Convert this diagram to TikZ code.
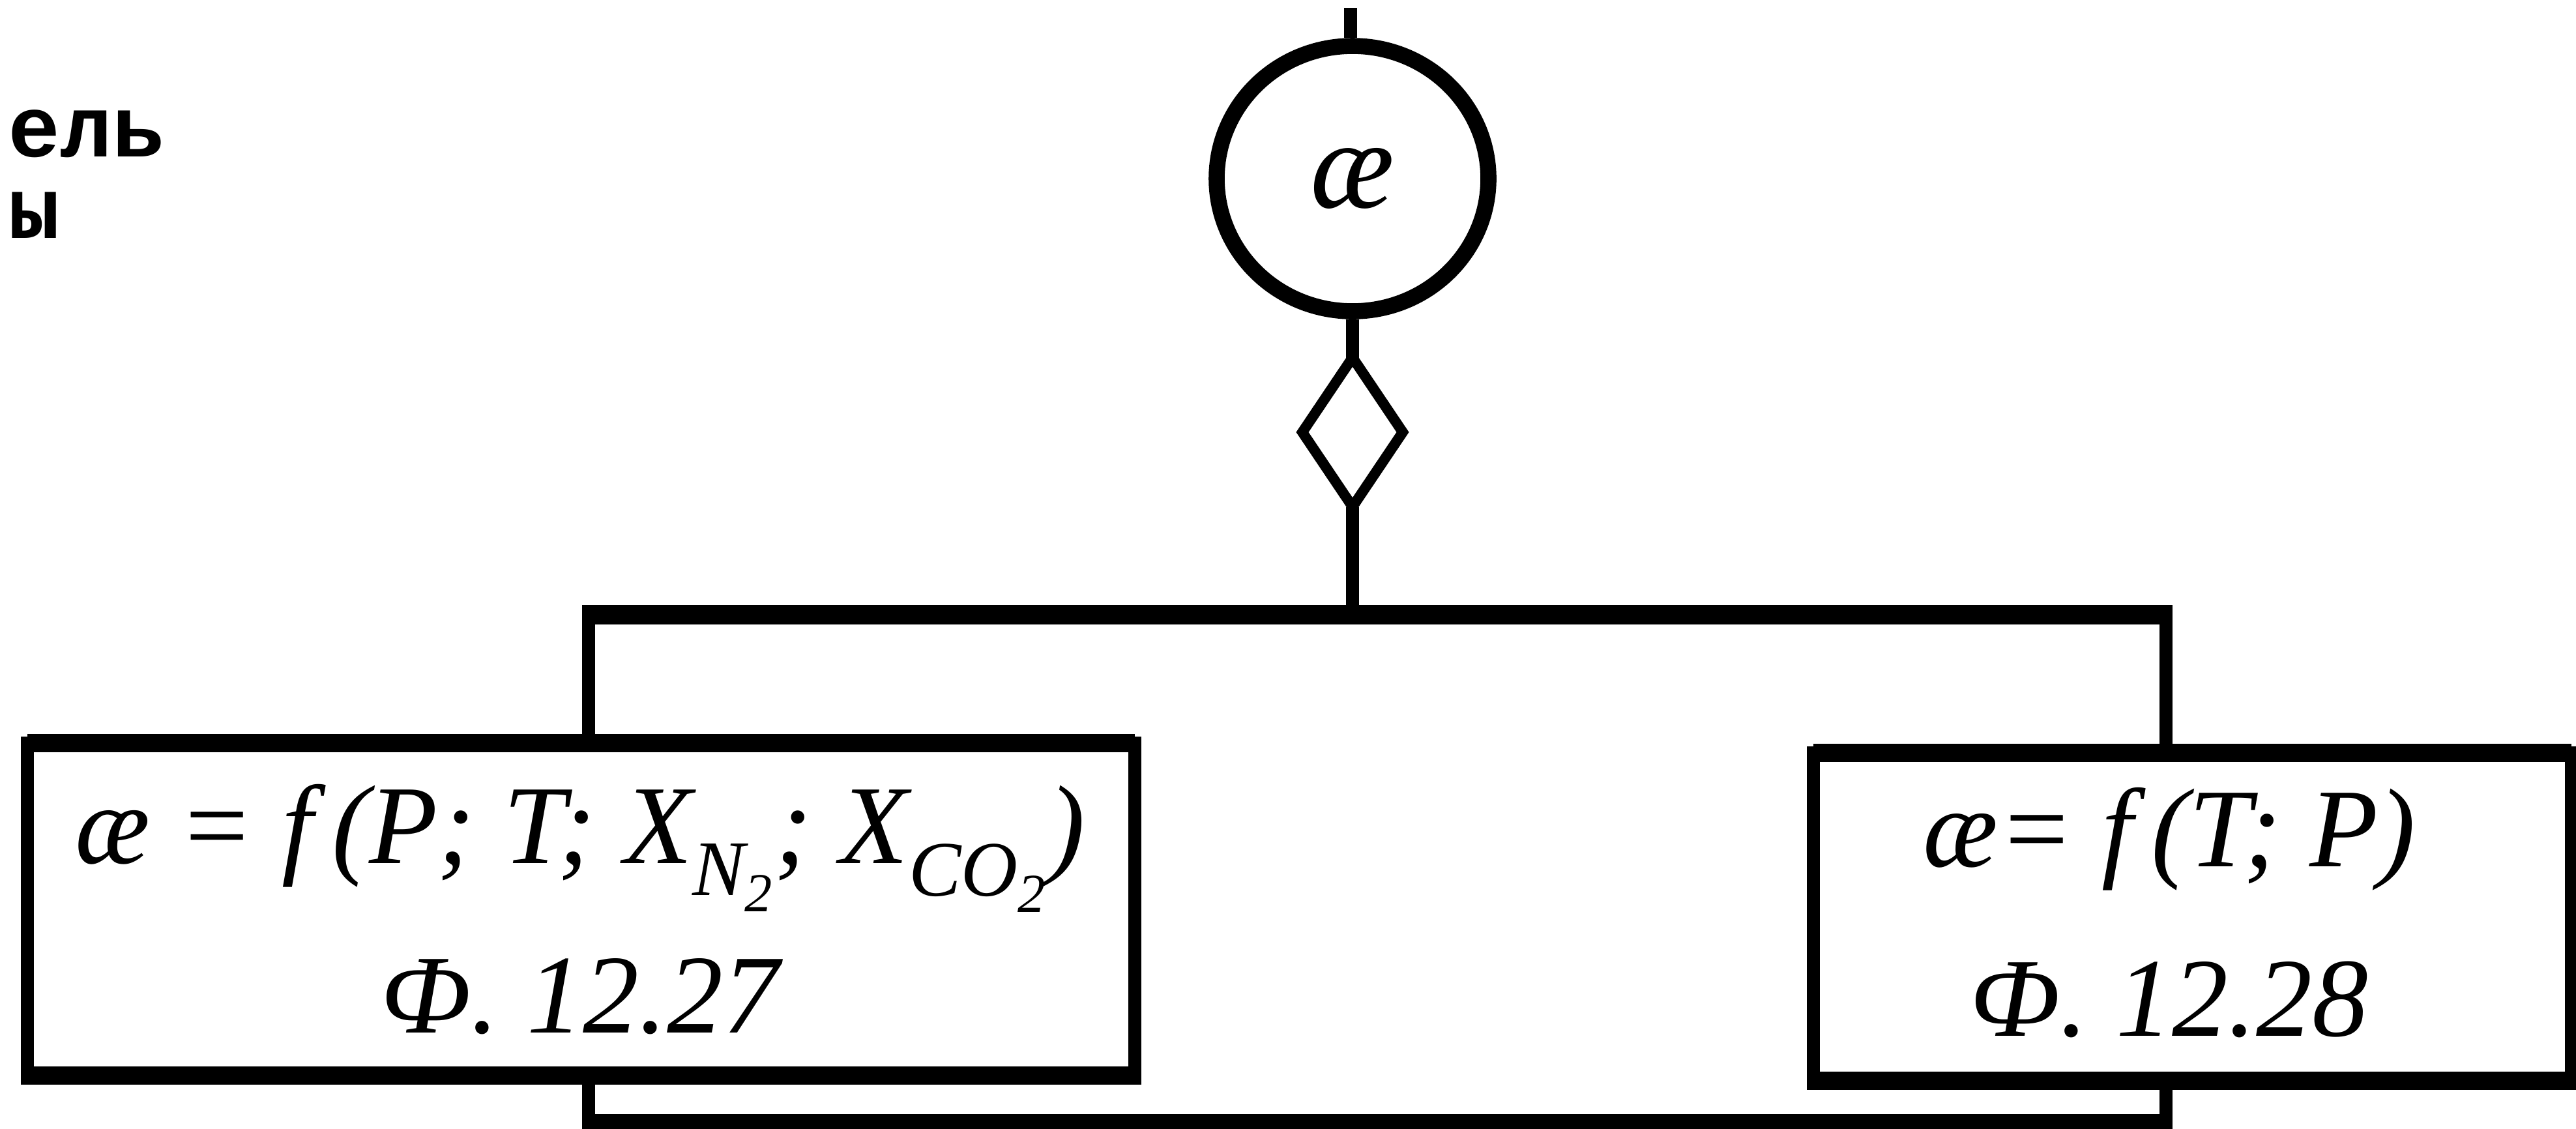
\documentclass[tikz,border=0pt]{standalone}
\usepackage{fontspec}
\setmainfont{Liberation Serif}
\newfontfamily\machine{Liberation Mono}
\usetikzlibrary{shapes.geometric}

\newcommand{\indice}[1]{\textsubscript{#1}}

\begin{document}
\begin{tikzpicture}[
  trait/.style={line width=5.5pt},
  bus/.style={line width=8.5pt, shorten <=-2.75pt, shorten >=-2.75pt},
  bord/.style={line width=8pt, shorten <=-2.75pt, shorten >=-2.75pt},
  cercle/.style={draw, ellipse, line width=7pt, inner sep=0pt,
    minimum width=4.17cm, minimum height=4.07cm,
    font=\fontsize{55}{60}\selectfont\itshape},
  losange/.style={draw, diamond, line width=4.5pt, inner sep=0pt,
    outer sep=0pt, minimum width=1.54cm, minimum height=2.29cm},
  bloc/.style={draw, line width=5.5pt, inner sep=0pt, outer sep=0pt},
  formule/.style={align=center, inner sep=0pt,
    font=\fontsize{49}{74}\selectfont\itshape},
  titre/.style={anchor=base west, inner sep=0pt,
    font=\machine\bfseries\fontsize{38}{38}\selectfont}
]

% Cadre
\useasboundingbox
(0,0)
rectangle
(39.52,-17.31);

% Titre
\node[titre] (titreA)
at (0.12,-2.40)
{ель};

\node[titre] (titreB)
at (0.12,-3.65)
{ы};

% Cercle
\node[cercle] (kappa)
at (20.75,-2.74)
{æ};

\coordinate (entree)
at (20.72,-0.12);

\draw[trait]
(entree)
--
(entree |- kappa.north);

% Losange
\node[losange] (vanne)
at (20.75,-6.63)
{};

\draw[trait]
(kappa.south)
--
(vanne.north);

% Bus haut
\coordinate (busG) at (9.03,-9.43);
\coordinate (busD) at (33.23,-9.43);

\draw[trait]
(vanne.south)
--
(vanne.south |- busG);

\draw[bus]
(busG)
--
(busD);

% Blocs
\node[bloc, minimum width=16.99cm, minimum height=5.10cm] (blocG)
at (8.915,-13.95)
{};

\node[bloc, minimum width=11.63cm, minimum height=5.03cm] (blocD)
at (33.635,-14.065)
{};

\foreach \b in {blocG,blocD}
  \draw[bord]
  (\b.north west) -- (\b.north east)
  (\b.south west) -- (\b.south east);

% Formules
\node[formule] (formG)
at (8.90,-13.95)
{æ = f\,(P; T; X\indice{N\indice{2}}; X\indice{CO\indice{2}})\\
Ф.\ 12.27};

\node[formule] (formD)
at (33.28,-14.00)
{æ= f\,(T; P)\\
Ф.\ 12.28};

% Verticales
\draw[trait]
(busG)
--
(busG |- blocG.north);

\draw[trait]
(busD)
--
(busD |- blocD.north);

% Bus bas
\coordinate (retG) at (9.03,-17.24);
\coordinate (retD) at (33.23,-17.24);

\draw[trait]
(retG |- blocG.south)
--
(retG);

\draw[trait]
(retD |- blocD.south)
--
(retD);

\draw[bus]
(retG)
--
(retD);

\end{tikzpicture}
\end{document}
